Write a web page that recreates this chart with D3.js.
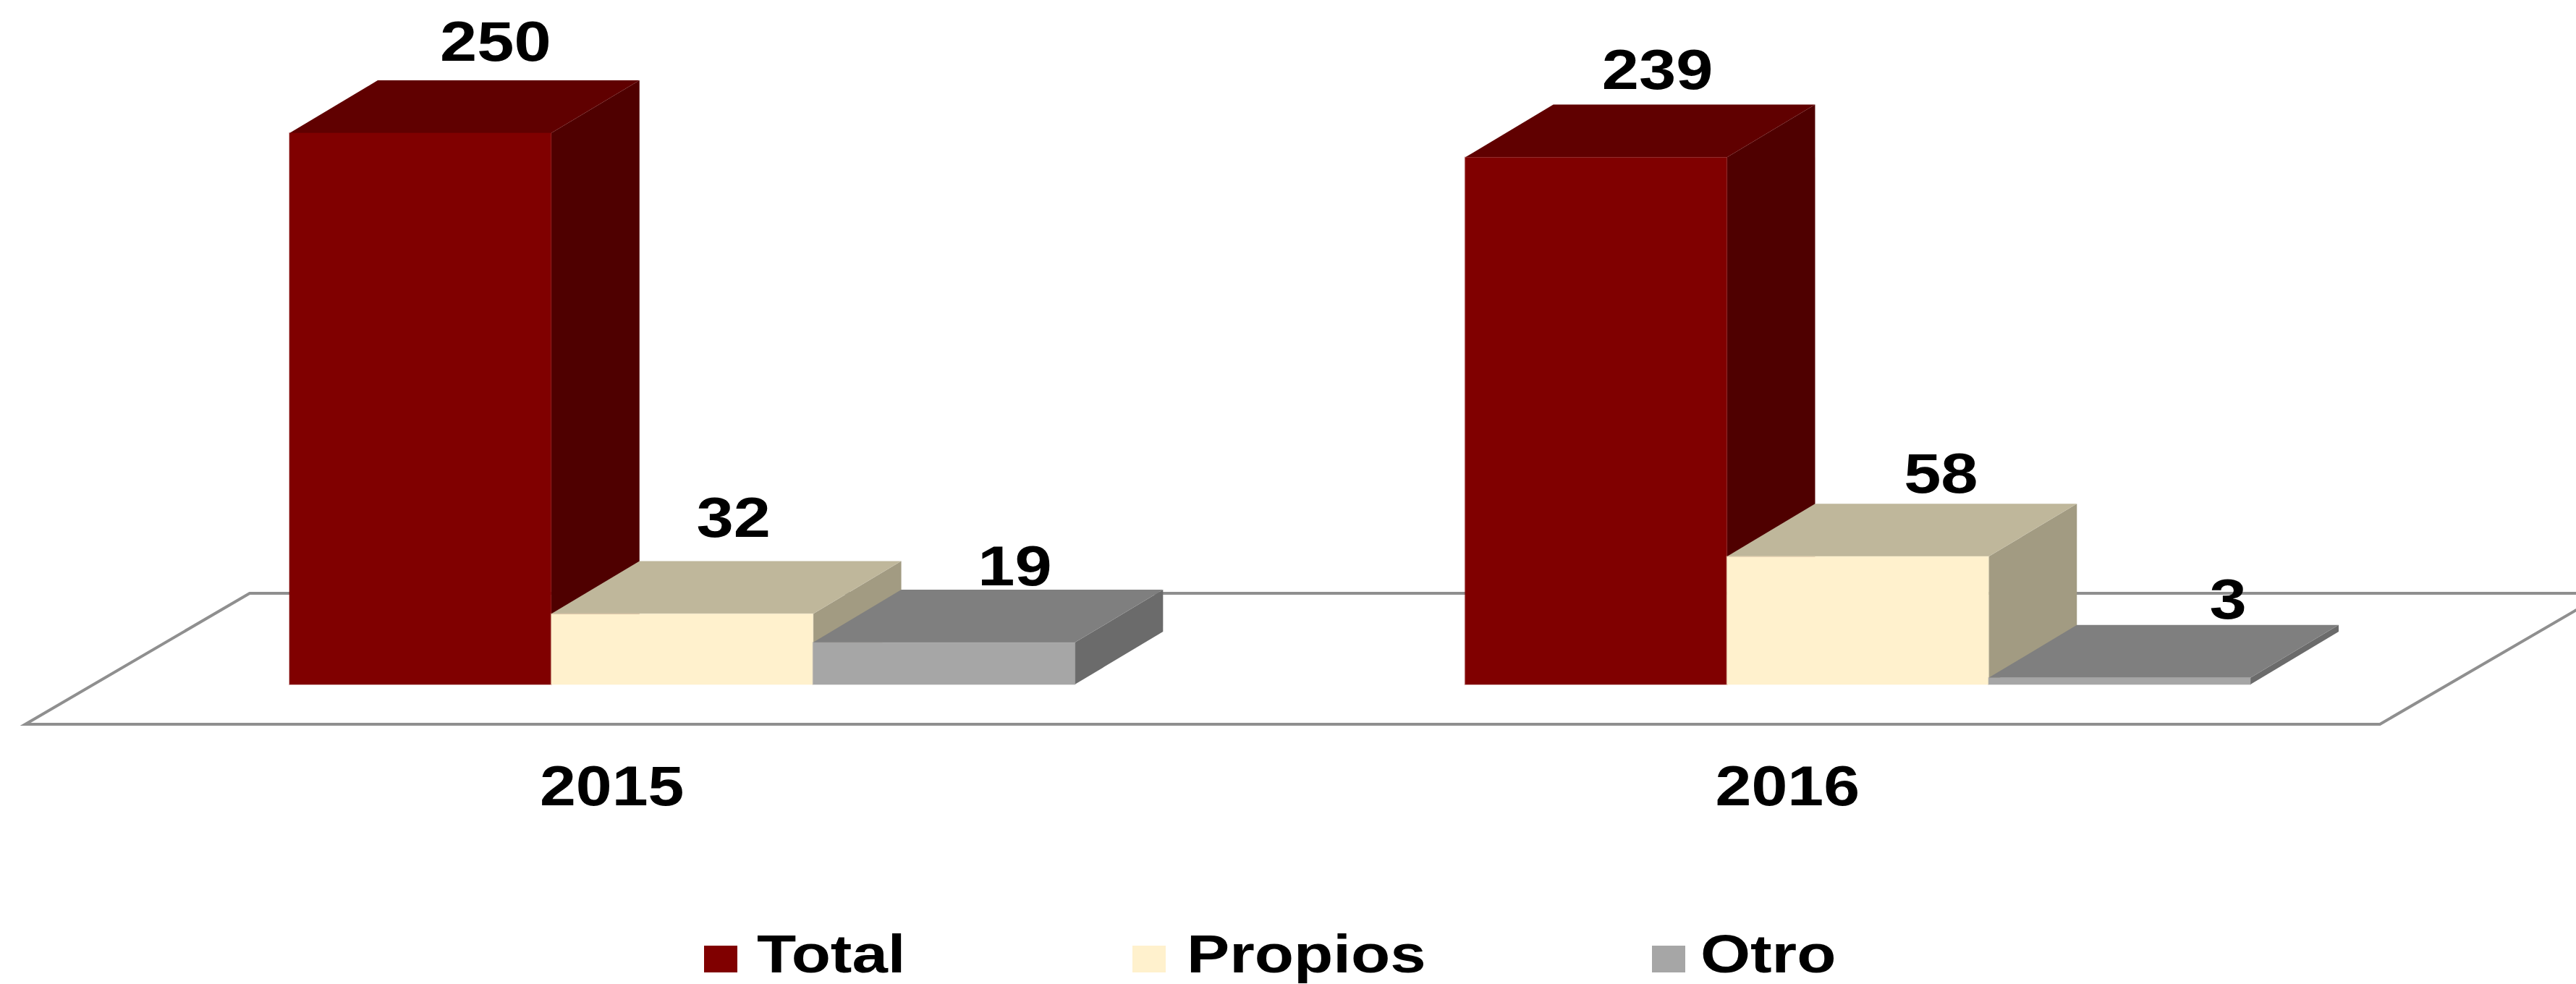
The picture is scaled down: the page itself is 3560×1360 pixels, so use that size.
<!DOCTYPE html>
<html>
<head>
<meta charset="utf-8">
<script src="https://cdn.jsdelivr.net/npm/d3@7"></script>
<style>
	html, body { margin: 0; padding: 0; background: #fff; }
	svg { display: block; }
	text { font-family: "Liberation Sans", Arial, sans-serif; font-weight: bold; fill: #000; }
</style>
</head>
<body>
<svg width="3560" height="1360"></svg>
<script>
// Data
var years = ["2015", "2016"]
var seriesNames = ["Total", "Propios", "Otro"]
var total = [250, 239]
var propios = [32, 58]
var otro = [19, 3]

var frontColors = ["#800000", "#fff1cd", "#a6a6a6"]
var topColors = ["#600000", "#bfb79b", "#7f7f7f"]
var sideColors = ["#4f0000", "#a29b82", "#6b6b6b"]

window.onload = function() {
	var svg = d3.select("svg")
	var values = [total, propios, otro]

	// Oblique depth of the fake 3D bars
	var depth = {x: 122, y: 73}

	var x = d3.scaleBand().domain(years).range([400, 3110]).paddingInner(0.332).paddingOuter(0)
	var xSeries = d3.scaleBand().domain(seriesNames).range([0, x.bandwidth()])
	var y = d3.scaleLinear().domain([0, 250]).range([946, 184])

	drawFloor(svg)

	seriesNames.forEach(function(name, s) {
		var bars = svg.selectAll(".bar-" + s)
			.data(values[s])
			.enter().append("g")
			.attr("class", "bar-" + s)

		var left = function(d, i) { return x(years[i]) + xSeries(name) }
		var right = function(d, i) { return left(d, i) + xSeries.bandwidth() }

		// Side face
		bars.append("path")
			.attr("fill", sideColors[s])
			.attr("d", function(d, i) {
				var r = right(d, i)
				return d3.line()([[r, y(d)], [r + depth.x, y(d) - depth.y], [r + depth.x, y(0) - depth.y], [r, y(0)]])
			})
		// Top face
		bars.append("path")
			.attr("fill", topColors[s])
			.attr("d", function(d, i) {
				var l = left(d, i), r = right(d, i)
				return d3.line()([[l, y(d)], [l + depth.x, y(d) - depth.y], [r + depth.x, y(d) - depth.y], [r, y(d)]])
			})
		// Front face
		bars.append("rect")
			.attr("fill", frontColors[s])
			.attr("stroke", frontColors[s])
			.attr("stroke-opacity", 0.3)
			.attr("stroke-width", 2)
			.attr("x", left)
			.attr("y", function(d) { return y(d) })
			.attr("width", xSeries.bandwidth())
			.attr("height", function(d) { return y(0) - y(d) })
	})

	drawValueLabels(svg, values, x, xSeries, y, depth)
	drawYearAxis(svg, x)
	drawLegend(svg)
}

// Floor plate behind the bars, its right back corner runs off the picture
function drawFloor(svg) {
	svg.append("path")
		.attr("fill", "none")
		.attr("stroke", "#8f8f8f")
		.attr("stroke-width", 4)
		.attr("d", d3.line()([[3600, 820], [345, 820], [35, 1001], [3289, 1001], [3600, 820]]))
}

// The labels were placed by hand in the original, so each has its own offset
function drawValueLabels(svg, values, x, xSeries, y, depth) {
	var nudge = [
		[[-18, -27], [-37, -22]],
		[[-51, -33], [-7, -15]],
		[[-24, -6], [28, -9]]
	]
	seriesNames.forEach(function(name, s) {
		svg.selectAll(".value-" + s)
			.data(values[s])
			.enter().append("text")
			.attr("class", "value-" + s)
			.attr("font-size", 78)
			.attr("text-anchor", "middle")
			.attr("transform", function(d, i) {
				var cx = x(years[i]) + xSeries(name) + xSeries.bandwidth() / 2 + depth.x + nudge[s][i][0]
				var cy = y(d) - depth.y + nudge[s][i][1]
				return "translate(" + cx + "," + cy + ") scale(1.18,1)"
			})
			.text(function(d) { return d })
	})
}

function drawYearAxis(svg, x) {
	var axis = svg.append("g")
		.attr("transform", "translate(-97,1113)")
		.call(d3.axisBottom(x).tickSize(0).tickPadding(0))
	axis.select(".domain").remove()
	axis.selectAll("text")
		.attr("y", 0)
		.attr("dy", 0)
		.attr("font-size", 78)
		.attr("font-family", null)
		.attr("transform", "scale(1.15,1)")
}

function drawLegend(svg) {
	var swatchX = [973, 1565, 2283]
	var labelX = [73, 75, 67]
	var entries = svg.selectAll(".legend")
		.data(seriesNames)
		.enter().append("g")
		.attr("class", "legend")
		.attr("transform", function(d, i) { return "translate(" + swatchX[i] + ",1307)" })
	entries.append("rect")
		.attr("width", 46)
		.attr("height", 37)
		.attr("fill", function(d, i) { return frontColors[i] })
	entries.append("text")
		.attr("font-size", 74)
		.attr("transform", function(d, i) { return "translate(" + labelX[i] + ",37) scale(1.2,1)" })
		.text(function(d) { return d })
}
</script>
</body>
</html>
